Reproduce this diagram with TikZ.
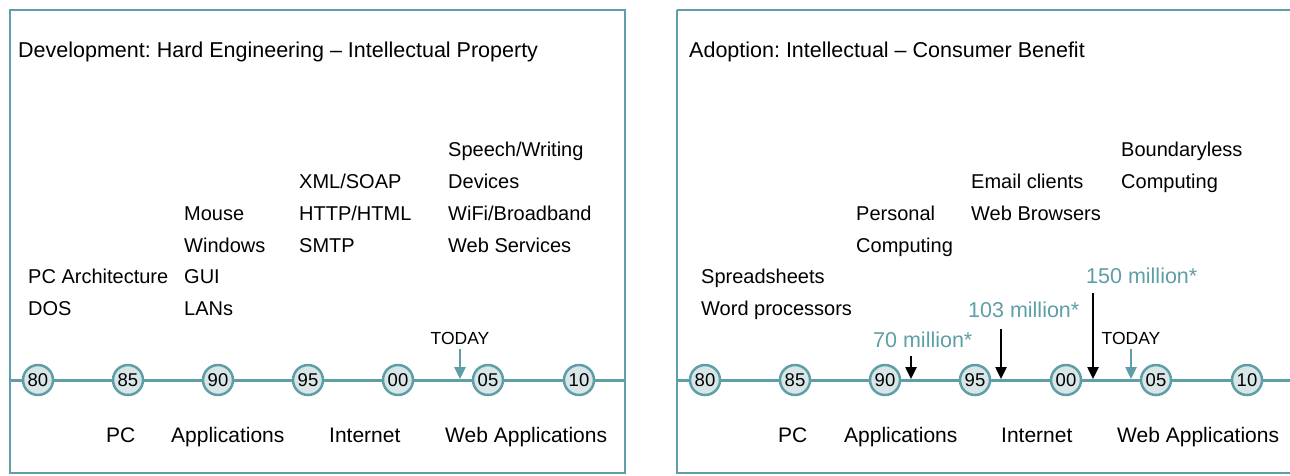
\documentclass[tikz,border=0pt]{standalone}
\usepackage{fontspec}
\setmainfont{Liberation Sans}
\usetikzlibrary{arrows.meta}
\definecolor{teal1}{HTML}{5E9EA6}
\definecolor{cfill}{HTML}{D8E6E8}
\begin{document}
\frenchspacing
\begin{tikzpicture}[x=1pt,y=-1pt,
  frame/.style={draw=teal1,line width=2.5pt},
  axis/.style={draw=teal1,line width=3pt},
  yr/.style={circle,draw=teal1,fill=cfill,line width=2.5pt,minimum size=30pt,inner sep=0pt,font=\fontsize{18.5}{20}\selectfont},
  txt/.style={anchor=west,inner sep=0pt,font=\fontsize{20}{24}\selectfont,text height=14pt,text depth=4pt,yshift=-2.5pt},
  ttl/.style={txt,font=\fontsize{21.5}{26}\selectfont},
  bot/.style={txt,font=\fontsize{21}{25}\selectfont},
  mil/.style={txt,text=teal1,font=\fontsize{21.5}{26}\selectfont},
  tday/.style={anchor=center,inner sep=0pt,font=\fontsize{17.5}{20}\selectfont,text height=12pt,text depth=0pt},
  blk/.style={-{Triangle[length=12pt,width=11pt]},line width=2.5pt,draw=black},
  tarr/.style={-{Triangle[length=12pt,width=11pt]},line width=2.5pt,draw=teal1}]
\useasboundingbox (0,0) rectangle (1290,475);
% frames
\draw[frame] (10,10) rectangle (625,473);
\draw[frame] (677,10) -- (1295,10) (677,10) -- (677,473) -- (1295,473);
% ---------- left panel ----------
\coordinate (la) at (10,380);
\coordinate (lb) at (625,380);
\draw[axis] (la) -- (lb);
\node[ttl] (lt) at (18,50) {Development: Hard Engineering -- Intellectual Property};
\node[txt] (l1a) at (28,276) {PC Architecture};
\node[txt] (l1b) at (28,308) {DOS};
\node[txt] (l2a) at (184,213) {Mouse};
\node[txt] (l2b) at (184,245) {Windows};
\node[txt] (l2c) at (184,276) {GUI};
\node[txt] (l2d) at (184,308) {LANs};
\node[txt] (l3a) at (299,181) {XML/SOAP};
\node[txt] (l3b) at (299,213) {HTTP/HTML};
\node[txt] (l3c) at (299,245) {SMTP};
\node[txt] (l4a) at (448,149) {Speech/Writing};
\node[txt] (l4b) at (448,181) {Devices};
\node[txt] (l4c) at (448,213) {WiFi/Broadband};
\node[txt] (l4d) at (448,245) {Web Services};
\node[yr] (l80) at (38,380) {80};
\node[yr] (l85) at (128,380) {85};
\node[yr] (l90) at (218,380) {90};
\node[yr] (l95) at (308,380) {95};
\node[yr] (l00) at (398,380) {00};
\node[yr] (l05) at (488,380) {05};
\node[yr] (l10) at (579,380) {10};
\node[tday] (ltd) at (460,338) {TODAY};
\coordinate (ltdA) at (460,349);
\coordinate (ltdB) at (460,379);
\draw[tarr] (ltdA) -- (ltdB);
\node[bot] (lb1) at (106,435) {PC};
\node[bot] (lb2) at (171,435) {Applications};
\node[bot] (lb3) at (329,435) {Internet};
\node[bot] (lb4) at (445,435) {Web Applications};
% ---------- right panel ----------
\coordinate (ra) at (677,380);
\coordinate (rb) at (1295,380);
\draw[axis] (ra) -- (rb);
\node[ttl] (rt) at (689,50) {Adoption: Intellectual -- Consumer Benefit};
\node[txt] (r1a) at (701,276) {Spreadsheets};
\node[txt] (r1b) at (701,308) {Word processors};
\node[txt] (r2a) at (856,213) {Personal};
\node[txt] (r2b) at (856,245) {Computing};
\node[txt] (r3a) at (971,181) {Email clients};
\node[txt] (r3b) at (971,213) {Web Browsers};
\node[txt] (r4a) at (1121,149) {Boundaryless};
\node[txt] (r4b) at (1121,181) {Computing};
\node[yr] (r80) at (705,380) {80};
\node[yr] (r85) at (795,380) {85};
\node[yr] (r90) at (885,380) {90};
\node[yr] (r95) at (975,380) {95};
\node[yr] (r00) at (1066,380) {00};
\node[yr] (r05) at (1156,380) {05};
\node[yr] (r10) at (1247,380) {10};
\node[mil] (m70) at (873,340) {70 million*};
\node[mil] (m103) at (968,310) {103 million*};
\node[mil] (m150) at (1086,276) {150 million*};
\coordinate (a70a) at (911,356);
\coordinate (a70b) at (911,379);
\coordinate (a103a) at (1001,329);
\coordinate (a103b) at (1001,379);
\coordinate (a150a) at (1093,293);
\coordinate (a150b) at (1093,379);
\draw[blk] (a70a) -- (a70b);
\draw[blk] (a103a) -- (a103b);
\draw[blk] (a150a) -- (a150b);
\node[tday] (rtd) at (1131,338) {TODAY};
\coordinate (rtdA) at (1131,349);
\coordinate (rtdB) at (1131,379);
\draw[tarr] (rtdA) -- (rtdB);
\node[bot] (rb1) at (778,435) {PC};
\node[bot] (rb2) at (844,435) {Applications};
\node[bot] (rb3) at (1001,435) {Internet};
\node[bot] (rb4) at (1117,435) {Web Applications};
\end{tikzpicture}
\end{document}
